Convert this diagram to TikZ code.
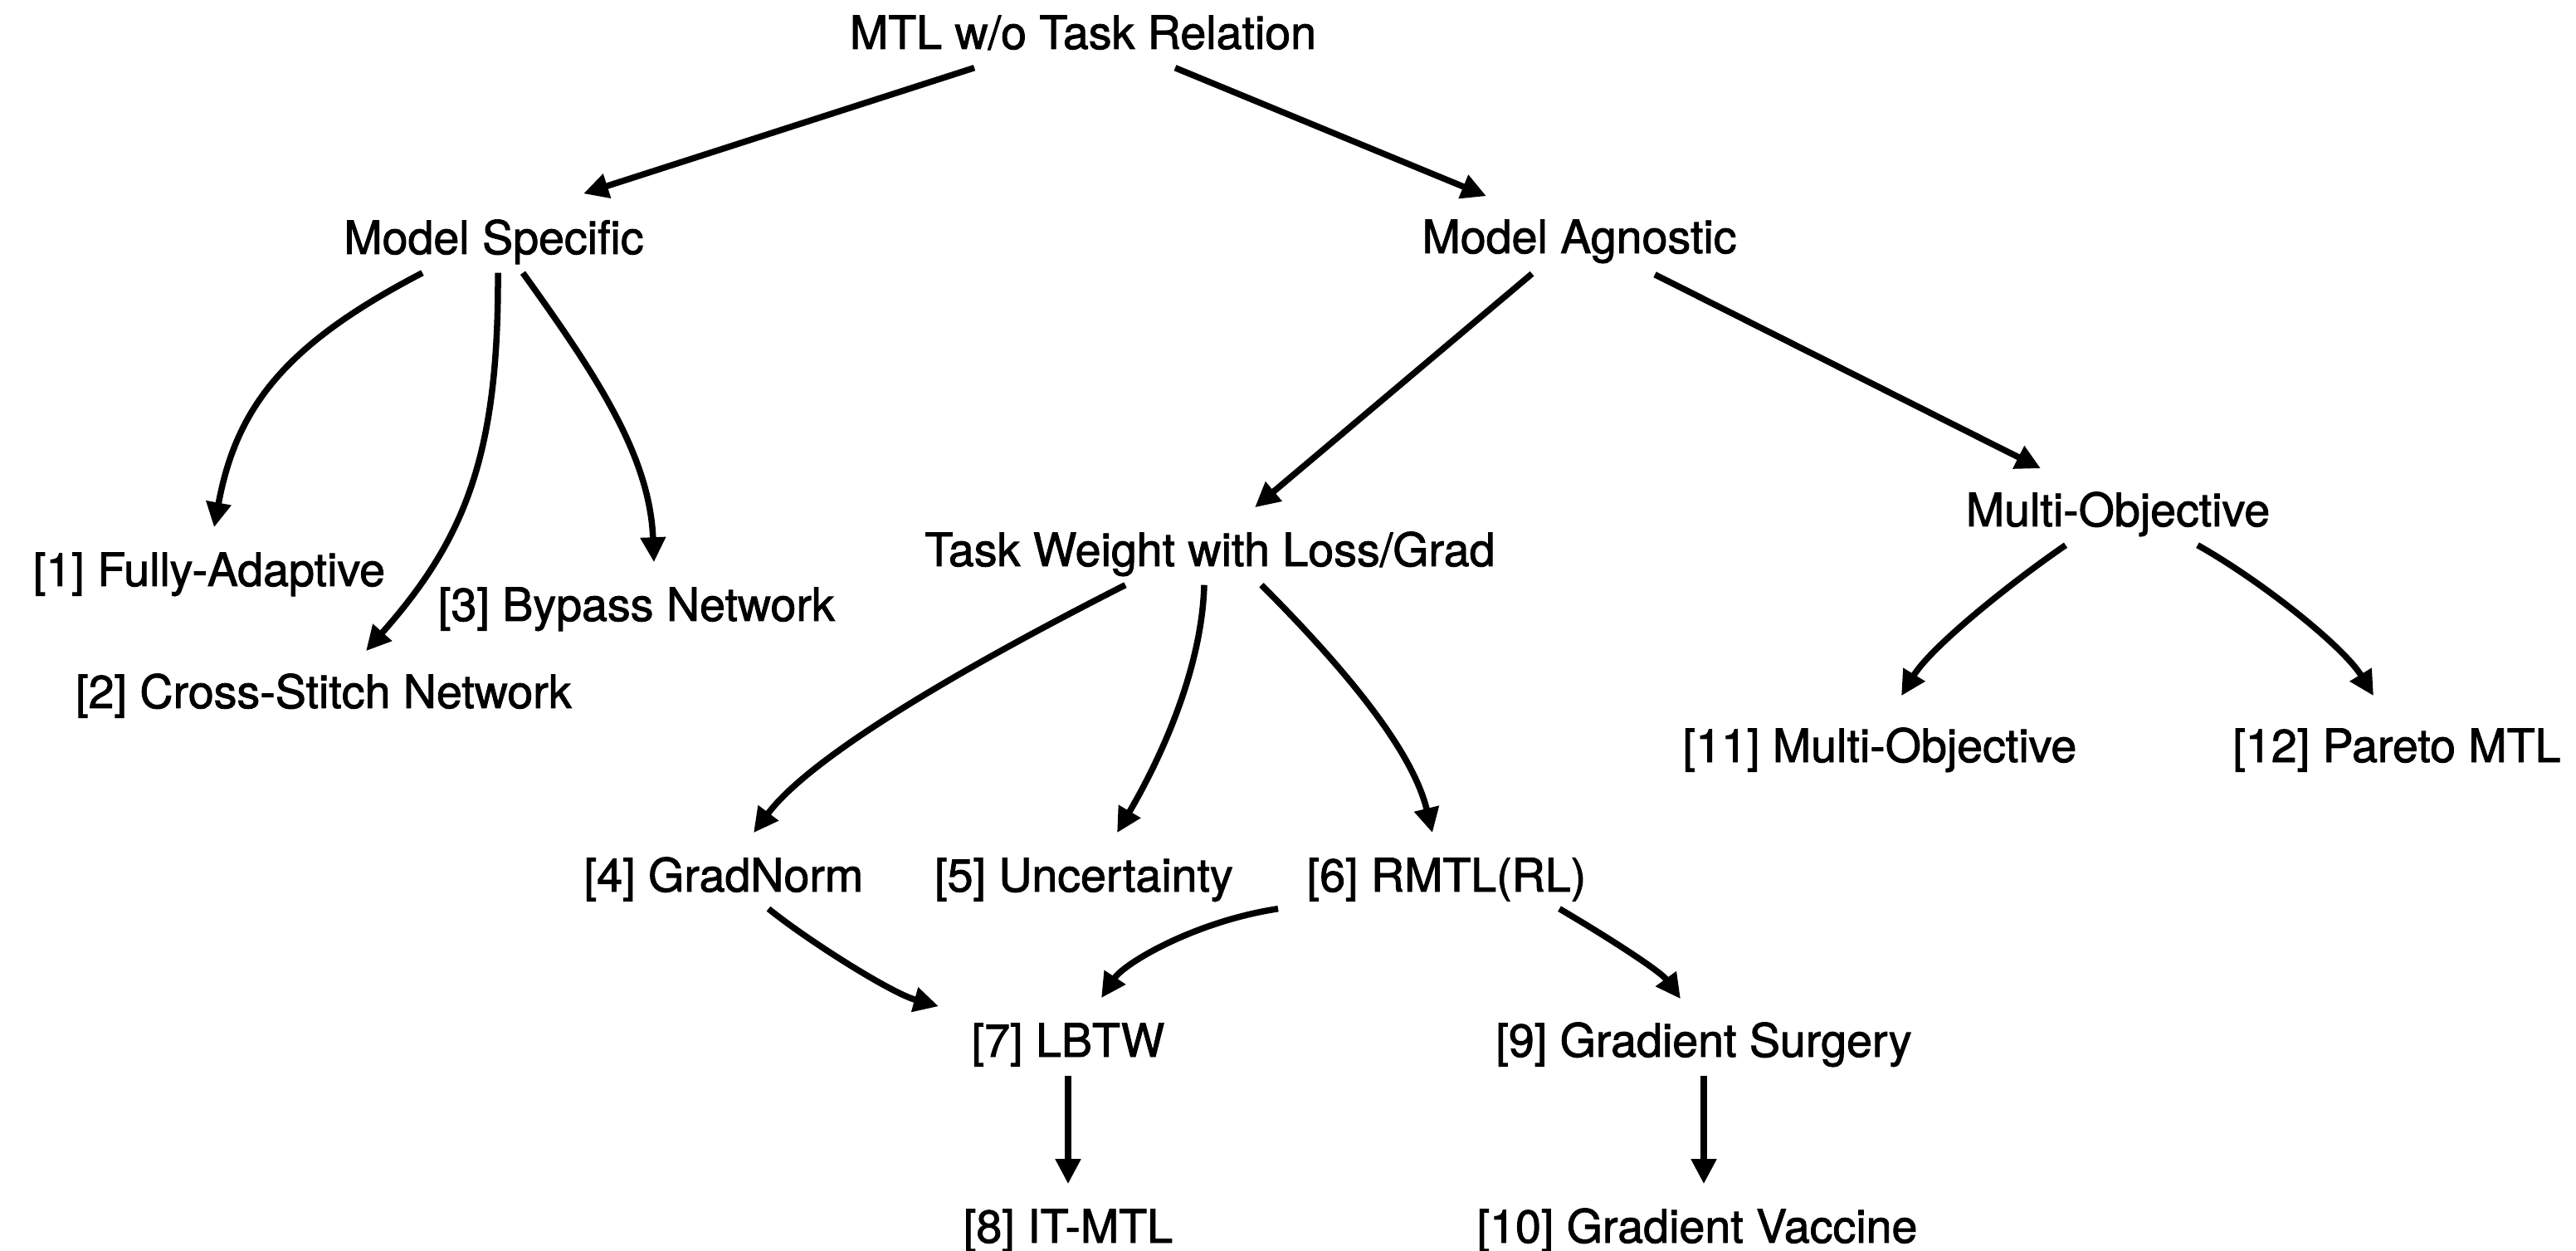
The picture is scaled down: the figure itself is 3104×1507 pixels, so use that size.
\documentclass[tikz,border=0pt]{standalone}
\usepackage{fontspec}
\setmainfont{TeX Gyre Heros}
\newfontfamily\lblfont{TeX Gyre Heros}[FakeBold=1.6]
\usetikzlibrary{arrows.meta,calc}

\begin{document}
\begin{tikzpicture}[x=0.01cm, y=-0.01cm,
  lbl/.style={font=\lblfont\fontsize{15.8}{19}\selectfont, inner sep=0pt,
              text height=0.70cm, text depth=0.22cm, anchor=base},
  edge/.style={line width=0.075cm, line cap=butt,
               -{Triangle[length=0.30cm,width=0.29cm]}}]
\useasboundingbox[fill=white] (0,0) rectangle (3104,1507);

% labels (placed on their baselines)
\node[lbl] (root) at (1305,59)  {MTL w/o Task Relation};
\node[lbl] (ms)   at (595,306)  {Model Specific};
\node[lbl] (ma)   at (1903,305) {Model Agnostic};
\node[lbl] (n1)   at (252,706)  {[1] Fully-Adaptive};
\node[lbl] (n2)   at (390,853)  {[2] Cross-Stitch Network};
\node[lbl] (n3)   at (767,748)  {[3] Bypass Network};
\node[lbl] (tw)   at (1458,682) {Task Weight with Loss/Grad};
\node[lbl] (mo)   at (2552,634) {Multi-Objective};
\node[lbl] (n11)  at (2265,918) {[11] Multi-Objective};
\node[lbl] (n12)  at (2888,918) {[12] Pareto MTL};
\node[lbl] (n4)   at (872,1074) {[4] GradNorm};
\node[lbl] (n5)   at (1306,1074) {[5] Uncertainty};
\node[lbl] (n6)   at (1743,1074) {[6] RMTL(RL)};
\node[lbl] (n7)   at (1287,1273) {[7] LBTW};
\node[lbl] (n9)   at (2053,1273) {[9] Gradient Surgery};
\node[lbl] (n8)   at (1287,1497) {[8] IT-MTL};
\node[lbl] (n10)  at (2045,1497) {[10] Gradient Vaccine};

% top level
\draw[edge] ($(root.south)+(-131,0)$) -- ($(ms.north)+(108,-2)$);
\draw[edge] ($(root.south)+(111,0)$) -- ($(ma.north)+(-112,2)$);

% model specific
\draw[edge] ($(ms.south)+(-86,0)$) .. controls (345,414) and (285,489) .. ($(n1.north)+(6,0)$);
\draw[edge] ($(ms.south)+(5,0)$) .. controls (601,549) and (560,650) .. ($(n2.north)+(51,2)$);
\draw[edge] ($(ms.south)+(35,0)$) .. controls (717,450) and (783,548) .. ($(n3.north)+(21,0)$);

% model agnostic
\draw[edge] ($(ma.south)+(-57,2)$) -- ($(tw.north)+(54,0)$);
\draw[edge] ($(ma.south)+(91,3)$) -- ($(mo.north)+(-93,1)$);

% task weighting
\draw[edge] ($(tw.south)+(-102,0)$) .. controls (1178,795) and (980,907) .. ($(n4.north)+(36,0)$);
\draw[edge] ($(tw.south)+(-7,0)$) .. controls (1448,810) and (1395,920) .. ($(n5.north)+(40,0)$);
\draw[edge] ($(tw.south)+(62,0)$) .. controls (1604,789) and (1700,896) .. ($(n6.north)+(-17,0)$);

% multi-objective
\draw[edge] ($(mo.south)+(-63,0)$) .. controls (2423,702) and (2327,779) .. ($(n11.north)+(26,-9)$);
\draw[edge] ($(mo.south)+(96,0)$) .. controls (2725,700) and (2824,779) .. ($(n12.north)+(-28,-9)$);

% follow-up methods
\draw[edge] ($(n4.south)+(54,-2)$) .. controls (972,1132) and (1073,1196) .. ($(n7.north)+(-156,10)$);
\draw[edge] ($(n6.south)+(-203,-2)$) .. controls (1440,1110) and (1355,1160) .. ($(n7.north)+(40,0)$);
\draw[edge] ($(n6.south)+(136,-2)$) .. controls (1929,1124) and (2000,1169) .. ($(n9.north)+(-28,1)$);
\draw[edge] (n7.south) -- (n8.north);
\draw[edge] (n9.south) -- (n9.south |- n10.north);
\end{tikzpicture}
\end{document}
